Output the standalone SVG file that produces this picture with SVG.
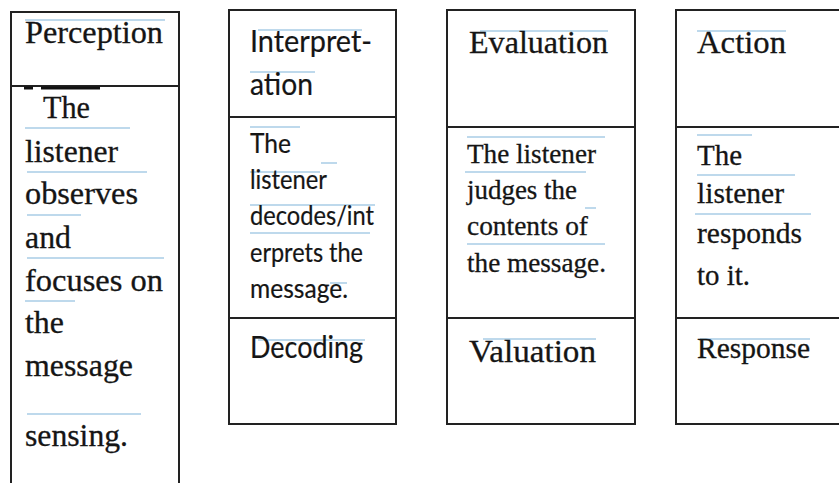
<svg xmlns="http://www.w3.org/2000/svg" width="839" height="483" viewBox="0 0 839 483">
<style>
  .box { fill: none; stroke: #222; stroke-width: 2; }
  .div { stroke: #222; stroke-width: 2; }
  .ser { font-family: "Liberation Serif", "Times New Roman", serif; fill: #151515; stroke: #151515; stroke-width: 0.3; }
  .san { font-family: Lato, "Open Sans", "Liberation Sans", sans-serif; fill: #151515; stroke: #151515; stroke-width: 0.2; }
  .h { font-size: 32px; }
  .hs { font-size: 30px; }
  .b1 { font-size: 31px; }
  .b2 { font-size: 26px; }
  .b3 { font-size: 28px; }
  .b4 { font-size: 30px; }
  .u { stroke: #a9cde6; stroke-width: 1.5; }
</style>
<rect x="0" y="0" width="839" height="483" fill="#ffffff"/>
<g id="connectors"></g>

<g id="perception">
  <path class="box" d="M11 484 V12 H179 V484"/>
  <line class="div" x1="11" y1="86" x2="179" y2="86"/>
  <rect x="24" y="86.5" width="9" height="3" fill="#111"/>
  <rect x="41" y="86.5" width="59" height="3" fill="#111"/>
  <line class="u" x1="25" y1="20" x2="165" y2="20"/>
  <line class="u" x1="25" y1="128" x2="130" y2="128"/>
  <line class="u" x1="27" y1="172" x2="147" y2="172"/>
  <line class="u" x1="27" y1="215" x2="81" y2="215"/>
  <line class="u" x1="27" y1="258" x2="164" y2="258"/>
  <line class="u" x1="25" y1="301" x2="75" y2="301"/>
  <line class="u" x1="27" y1="414" x2="141" y2="414"/>
  <text class="ser h" x="25" y="43" textLength="138" lengthAdjust="spacingAndGlyphs">Perception</text>
  <text class="ser b1" x="43" y="118" textLength="47" lengthAdjust="spacingAndGlyphs">The</text>
  <text class="ser b1" x="25" y="162" textLength="93" lengthAdjust="spacingAndGlyphs">listener</text>
  <text class="ser b1" x="25" y="204" textLength="113" lengthAdjust="spacingAndGlyphs">observes</text>
  <text class="ser b1" x="25" y="248" textLength="46" lengthAdjust="spacingAndGlyphs">and</text>
  <text class="ser b1" x="25" y="291" textLength="138" lengthAdjust="spacingAndGlyphs">focuses on</text>
  <text class="ser b1" x="25" y="333" textLength="39" lengthAdjust="spacingAndGlyphs">the</text>
  <text class="ser b1" x="25" y="376" textLength="108" lengthAdjust="spacingAndGlyphs">message</text>
  <text class="ser b1" x="25" y="446" textLength="103" lengthAdjust="spacingAndGlyphs">sensing.</text>
</g>

<g id="interpretation">
  <rect class="box" x="229" y="10" width="167" height="414"/>
  <line class="div" x1="229" y1="117" x2="396" y2="117"/>
  <line class="div" x1="229" y1="318" x2="396" y2="318"/>
  <line class="u" x1="258" y1="30" x2="362" y2="30"/>
  <line class="u" x1="250" y1="72" x2="315" y2="72"/>
  <line class="u" x1="250" y1="127" x2="300" y2="127"/>
  <line class="u" x1="321" y1="163" x2="337" y2="163"/>
  <line class="u" x1="250" y1="172" x2="320" y2="172"/>
  <line class="u" x1="250" y1="205" x2="375" y2="205"/>
  <line class="u" x1="250" y1="233" x2="370" y2="233"/>
  <line class="u" x1="330" y1="283" x2="347" y2="283"/>
  <line class="u" x1="258" y1="340" x2="365" y2="340"/>
  <text class="san hs" x="250" y="52" textLength="122" lengthAdjust="spacingAndGlyphs">Interpret-</text>
  <text class="san hs" x="250" y="95" textLength="63" lengthAdjust="spacingAndGlyphs">ation</text>
  <text class="san b2" x="250" y="153" textLength="41" lengthAdjust="spacingAndGlyphs">The</text>
  <text class="san b2" x="250" y="189" textLength="77" lengthAdjust="spacingAndGlyphs">listener</text>
  <text class="san b2" x="250" y="225" textLength="124" lengthAdjust="spacingAndGlyphs">decodes/int</text>
  <text class="san b2" x="250" y="262" textLength="113" lengthAdjust="spacingAndGlyphs">erprets the</text>
  <text class="san b2" x="250" y="298" textLength="98" lengthAdjust="spacingAndGlyphs">message.</text>
  <text class="san hs" x="250" y="358" textLength="113" lengthAdjust="spacingAndGlyphs">Decoding</text>
</g>

<g id="evaluation">
  <rect class="box" x="447" y="10" width="188" height="414"/>
  <line class="div" x1="447" y1="127" x2="635" y2="127"/>
  <line class="div" x1="447" y1="318" x2="635" y2="318"/>
  <line class="u" x1="480" y1="31" x2="608" y2="31"/>
  <line class="u" x1="467" y1="137" x2="605" y2="137"/>
  <line class="u" x1="465" y1="172" x2="586" y2="172"/>
  <line class="u" x1="585" y1="208" x2="596" y2="208"/>
  <line class="u" x1="467" y1="244" x2="605" y2="244"/>
  <line class="u" x1="483" y1="339" x2="596" y2="339"/>
  <text class="ser h" x="469" y="53" textLength="139" lengthAdjust="spacingAndGlyphs">Evaluation</text>
  <text class="ser b3" x="467" y="163" textLength="129" lengthAdjust="spacingAndGlyphs">The listener</text>
  <text class="ser b3" x="467" y="199" textLength="110" lengthAdjust="spacingAndGlyphs">judges the</text>
  <text class="ser b3" x="467" y="235" textLength="121" lengthAdjust="spacingAndGlyphs">contents of</text>
  <text class="ser b3" x="467" y="272" textLength="139" lengthAdjust="spacingAndGlyphs">the message.</text>
  <text class="ser h" x="469" y="362" textLength="127" lengthAdjust="spacingAndGlyphs">Valuation</text>
</g>

<g id="action">
  <path class="box" d="M840 10 H676 V424 H840"/>
  <line class="div" x1="676" y1="127" x2="840" y2="127"/>
  <line class="div" x1="676" y1="318" x2="840" y2="318"/>
  <line class="u" x1="697" y1="31" x2="786" y2="31"/>
  <line class="u" x1="697" y1="135" x2="752" y2="135"/>
  <line class="u" x1="697" y1="175" x2="795" y2="175"/>
  <line class="u" x1="695" y1="214" x2="811" y2="214"/>
  <line class="u" x1="700" y1="339" x2="810" y2="339"/>
  <text class="ser h" x="697" y="53" textLength="89" lengthAdjust="spacingAndGlyphs">Action</text>
  <text class="ser b4" x="697" y="165" textLength="45" lengthAdjust="spacingAndGlyphs">The</text>
  <text class="ser b4" x="697" y="203" textLength="87" lengthAdjust="spacingAndGlyphs">listener</text>
  <text class="ser b4" x="697" y="243" textLength="105" lengthAdjust="spacingAndGlyphs">responds</text>
  <text class="ser b4" x="697" y="285" textLength="53" lengthAdjust="spacingAndGlyphs">to it.</text>
  <text class="ser hs" x="697" y="358" textLength="113" lengthAdjust="spacingAndGlyphs">Response</text>
</g>
</svg>
